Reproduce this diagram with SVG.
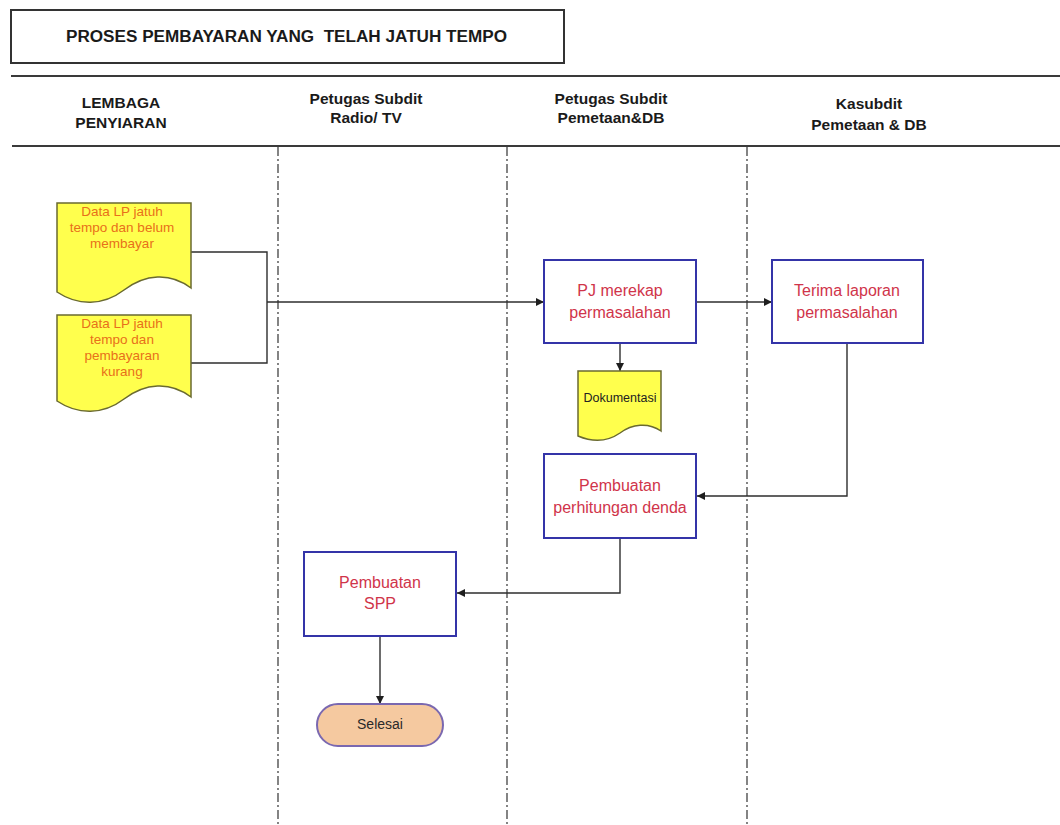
<svg xmlns="http://www.w3.org/2000/svg" width="1060" height="825" viewBox="0 0 1060 825">
  <style>
    .title { font-family: "Liberation Sans", Arial, sans-serif; font-size: 16px; font-weight: bold; fill: #1a1a1a; white-space: pre; }
    .head { font-family: "Liberation Sans", Arial, sans-serif; font-size: 15.5px; font-weight: bold; fill: #1a1a1a; text-anchor: middle; }
    .rule { stroke: #3a3a3a; stroke-width: 2; fill: none; }
    .lane { stroke: #333; stroke-width: 1.2; stroke-dasharray: 9 3 2 3; fill: none; }
    .proc { fill: #ffffff; stroke: #3434a8; stroke-width: 2; }
    .proc-t { font-family: "Liberation Sans", Arial, sans-serif; font-size: 16px; fill: #d0344a; text-anchor: middle; }
    .doc { fill: #ffff4d; stroke: #6a6a30; stroke-width: 1.5; }
    .doc-t { font-family: "Liberation Sans", Arial, sans-serif; font-size: 13.5px; fill: #e8701a; text-anchor: middle; }
    .doc-k { font-family: "Liberation Sans", Arial, sans-serif; font-size: 12.5px; fill: #222; text-anchor: middle; }
    .term { fill: #f5c9a0; stroke: #7a68b0; stroke-width: 2; }
    .term-t { font-family: "Liberation Sans", Arial, sans-serif; font-size: 14px; fill: #2a2a2a; text-anchor: middle; }
    .conn { stroke: #2e2e2e; stroke-width: 1.4; fill: none; }
  </style>
  <defs>
    <marker id="arrow" viewBox="0 0 10 10" refX="10" refY="5" markerWidth="8" markerHeight="8" markerUnits="userSpaceOnUse" orient="auto">
      <path d="M0,0 L10,5 L0,10 Z" fill="#1e1e1e"/>
    </marker>
  </defs>

  <rect width="1060" height="825" fill="#ffffff"/>

  <!-- title banner -->
  <g id="title">
    <rect x="11" y="10" width="553" height="53" fill="none" stroke="#333" stroke-width="2"/>
    <text class="title" x="66" y="42" xml:space="preserve" textLength="441" lengthAdjust="spacingAndGlyphs">PROSES PEMBAYARAN YANG  TELAH JATUH TEMPO</text>
  </g>

  <!-- swimlane header -->
  <g id="lane-header">
    <line class="rule" x1="11" y1="76" x2="1060" y2="76"/>
    <line class="rule" x1="12" y1="146" x2="1060" y2="146"/>
    <text class="head" x="121" y="108">LEMBAGA</text>
    <text class="head" x="121" y="128">PENYIARAN</text>
    <text class="head" x="366" y="104">Petugas Subdit</text>
    <text class="head" x="366" y="123">Radio/ TV</text>
    <text class="head" x="611" y="104">Petugas Subdit</text>
    <text class="head" x="611" y="123">Pemetaan&amp;DB</text>
    <text class="head" x="869" y="109">Kasubdit</text>
    <text class="head" x="869" y="130">Pemetaan &amp; DB</text>
  </g>

  <!-- lane dividers -->
  <g id="lane-dividers">
    <line class="lane" x1="278" y1="147" x2="278" y2="825"/>
    <line class="lane" x1="507" y1="147" x2="507" y2="825"/>
    <line class="lane" x1="747" y1="147" x2="747" y2="825"/>
  </g>

  <!-- connectors -->
  <g id="connectors">
    <polyline class="conn" points="191,252 267,252 267,363 191,363"/>
    <line class="conn" x1="267" y1="302" x2="544" y2="302" marker-end="url(#arrow)"/>
    <line class="conn" x1="696" y1="302" x2="772" y2="302" marker-end="url(#arrow)"/>
    <line class="conn" x1="620" y1="343" x2="620" y2="371" marker-end="url(#arrow)"/>
    <polyline class="conn" points="847,343 847,496 697,496" marker-end="url(#arrow)"/>
    <polyline class="conn" points="620,538 620,593 457,593" marker-end="url(#arrow)"/>
    <line class="conn" x1="380" y1="636" x2="380" y2="704" marker-end="url(#arrow)"/>
  </g>

  <!-- document: LP overdue, unpaid -->
  <g id="doc-belum-bayar">
    <path class="doc" d="M57,203 H191 V288 C170,272 145,274 124,290 C103,306 78,306 57,292 Z"/>
    <text class="doc-t" x="122" y="216">Data LP jatuh</text>
    <text class="doc-t" x="122" y="232">tempo dan belum</text>
    <text class="doc-t" x="122" y="248">membayar</text>
  </g>

  <!-- document: LP overdue, underpaid -->
  <g id="doc-kurang-bayar">
    <path class="doc" d="M57,315 H191 V397 C170,381 145,383 124,399 C103,415 78,415 57,401 Z"/>
    <text class="doc-t" x="122" y="328">Data LP jatuh</text>
    <text class="doc-t" x="122" y="344">tempo dan</text>
    <text class="doc-t" x="122" y="360">pembayaran</text>
    <text class="doc-t" x="122" y="376">kurang</text>
  </g>

  <!-- process: recap problems -->
  <g id="pj-merekap">
    <rect class="proc" x="544" y="260" width="152" height="83"/>
    <text class="proc-t" x="620" y="296">PJ merekap</text>
    <text class="proc-t" x="620" y="318">permasalahan</text>
  </g>

  <!-- process: receive report -->
  <g id="terima-laporan">
    <rect class="proc" x="772" y="260" width="151" height="83"/>
    <text class="proc-t" x="847" y="296">Terima laporan</text>
    <text class="proc-t" x="847" y="318">permasalahan</text>
  </g>

  <!-- document: documentation -->
  <g id="dokumentasi">
    <path class="doc" d="M578,371 H661 V431 C648,422 632,424 620,433 C607,442 592,442 578,436 Z"/>
    <text class="doc-k" x="620" y="402">Dokumentasi</text>
  </g>

  <!-- process: compute penalty -->
  <g id="hitung-denda">
    <rect class="proc" x="544" y="454" width="152" height="84"/>
    <text class="proc-t" x="620" y="491">Pembuatan</text>
    <text class="proc-t" x="620" y="513">perhitungan denda</text>
  </g>

  <!-- process: issue SPP -->
  <g id="pembuatan-spp">
    <rect class="proc" x="304" y="552" width="152" height="84"/>
    <text class="proc-t" x="380" y="588">Pembuatan</text>
    <text class="proc-t" x="380" y="609">SPP</text>
  </g>

  <!-- terminator -->
  <g id="selesai">
    <rect class="term" x="317" y="704" width="126" height="42" rx="21" ry="21"/>
    <text class="term-t" x="380" y="729">Selesai</text>
  </g>
</svg>
